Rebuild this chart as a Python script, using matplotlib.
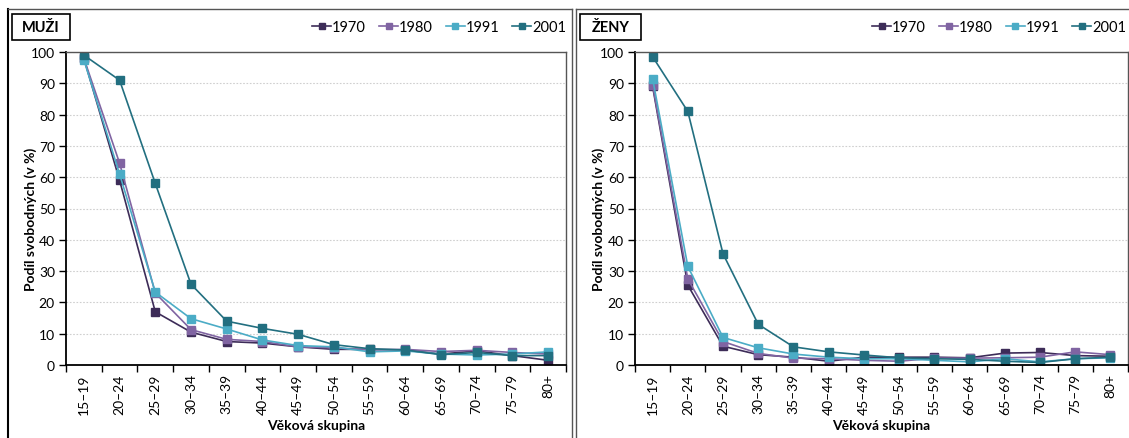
import matplotlib
matplotlib.use("Agg")
import matplotlib.pyplot as plt
from matplotlib.patches import Rectangle
from matplotlib.lines import Line2D

plt.rcParams['font.family'] = ['Lato', 'DejaVu Sans']

categories = ["15–19", "20–24", "25–29", "30–34", "35–39", "40–44", "45–49",
              "50–54", "55–59", "60–64", "65–69", "70–74", "75–79", "80+"]
years = ["1970", "1980", "1991", "2001"]
colors = ["#3d2c58", "#8064a2", "#4bacc6", "#226f80"]

muzi_1970 = [98, 59, 17, 10.5, 7.5, 7, 5.8, 5, 5, 4.8, 3.5, 4.5, 3, 1.5]
muzi_1980 = [98, 64.5, 23, 11.3, 8.2, 7.5, 5.8, 5.5, 4.8, 5, 4.3, 4.7, 4, 3.5]
muzi_1991 = [97.5, 61, 23.3, 14.8, 11.5, 8, 6.2, 5.8, 4.2, 4.5, 3.5, 3.2, 3.5, 4.2]
muzi_2001 = [99, 91, 58, 25.8, 14, 11.7, 9.8, 6.5, 5.2, 4.8, 3.3, 4, 3, 3]

zeny_1970 = [89, 25.5, 6, 3.3, 2.5, 1.2, 2.5, 2.5, 2.5, 2.3, 3.8, 4, 3, 2.8]
zeny_1980 = [89.5, 27.5, 7.5, 3.7, 2.2, 2, 1.5, 1.2, 2.2, 2.2, 2.3, 2.5, 4.2, 3.3]
zeny_1991 = [91.5, 31.5, 8.8, 5.5, 3.5, 2.5, 2, 2, 1.5, 1, 2, 1, 2, 2.3]
zeny_2001 = [98.5, 81, 35.5, 13, 5.8, 4.2, 3.2, 2.3, 2, 1.8, 1.2, 0.8, 2, 2.5]

panels = [
    ("MUŽI", [muzi_1970, muzi_1980, muzi_1991, muzi_2001]),
    ("ŽENY", [zeny_1970, zeny_1980, zeny_1991, zeny_2001]),
]

W, H = 1129, 439
fig = plt.figure(figsize=(W / 100, H / 100), dpi=100)

def fx(px):
    return px / W

def fy(py):
    return 1 - py / H

# panel frames
fig.add_artist(Line2D([fx(8), fx(8)], [fy(10), 0], color="black", lw=1.5, transform=fig.transFigure))
fig.add_artist(Line2D([fx(8), fx(572)], [fy(10), fy(10)], color="#555555", lw=1, transform=fig.transFigure))
fig.add_artist(Line2D([fx(572), fx(572)], [fy(10), 0], color="#555555", lw=1, transform=fig.transFigure))
fig.add_artist(Line2D([fx(576), fx(576)], [fy(10), 0], color="#555555", lw=1, transform=fig.transFigure))
fig.add_artist(Line2D([fx(576), 1], [fy(10), fy(10)], color="#555555", lw=1, transform=fig.transFigure))

ax_rects = [
    (fx(66), fy(366), fx(566) - fx(66), fy(53) - fy(366)),
    (fx(635), fy(366), fx(1128) - fx(635), fy(53) - fy(366)),
]
title_boxes = [(12, 15, 70, 41), (580, 15, 641, 41)]
legend_anchor = [fx(566), fx(1126)]
ylabel_x = [fx(37), fx(605)]

x = list(range(len(categories)))
for i, (title, series) in enumerate(panels):
    ax = fig.add_axes(ax_rects[i])
    for yr, vals, c in zip(years, series, colors):
        ax.plot(x, vals, color=c, lw=1.2, marker="s", markersize=6.2,
                markeredgecolor=c, markerfacecolor=c, label=yr)
    ax.set_xlim(-0.5, len(categories) - 0.5)
    ax.set_ylim(0, 100)
    ax.set_yticks(range(0, 101, 10))
    ax.yaxis.grid(True, linestyle=(0, (1.5, 1.5)), color="#cfcfcf", lw=0.8)
    ax.set_axisbelow(True)
    ax.set_xticks(x)
    ax.set_xticklabels(categories, rotation=90, fontsize=10)
    ax.set_xticks([k + 0.5 for k in range(-1, len(categories))], minor=True)
    ax.tick_params(axis="x", which="major", length=0, pad=6)
    ax.tick_params(axis="x", which="minor", length=5, width=1, color="black", direction="out")
    ax.tick_params(axis="y", length=5, width=1, direction="out", labelsize=10, pad=3)
    for s in ["left", "bottom"]:
        ax.spines[s].set_color("black")
        ax.spines[s].set_linewidth(1.3)
    for s in ["top", "right"]:
        ax.spines[s].set_color("#555555")
        ax.spines[s].set_linewidth(1.0)
    ax.set_xlabel("Věková skupina", fontsize=10, fontweight="bold", labelpad=4)
    ax.set_ylabel("Podíl svobodných (v %)", fontsize=10, fontweight="bold")
    ax.yaxis.set_label_coords(ylabel_x[i], 0.5, transform=fig.transFigure)

    bx0, by0, bx1, by1 = title_boxes[i]
    fig.add_artist(Rectangle((fx(bx0), fy(by1)), fx(bx1) - fx(bx0), fy(by0) - fy(by1),
                             transform=fig.transFigure, fill=False, edgecolor="black", lw=1.2))
    fig.text(fx((bx0 + bx1) / 2), fy((by0 + by1) / 2), title, ha="center", va="center",
             fontsize=10.5, fontweight="bold")

    ax.legend(loc="center right", bbox_to_anchor=(legend_anchor[i], fy(28)),
              bbox_transform=fig.transFigure, ncol=4, frameon=False, fontsize=10.5,
              handlelength=1.3, handletextpad=0.05, columnspacing=0.9, markerscale=0.8,
              borderaxespad=0, borderpad=0)

fig.savefig("out.png", dpi=100)
